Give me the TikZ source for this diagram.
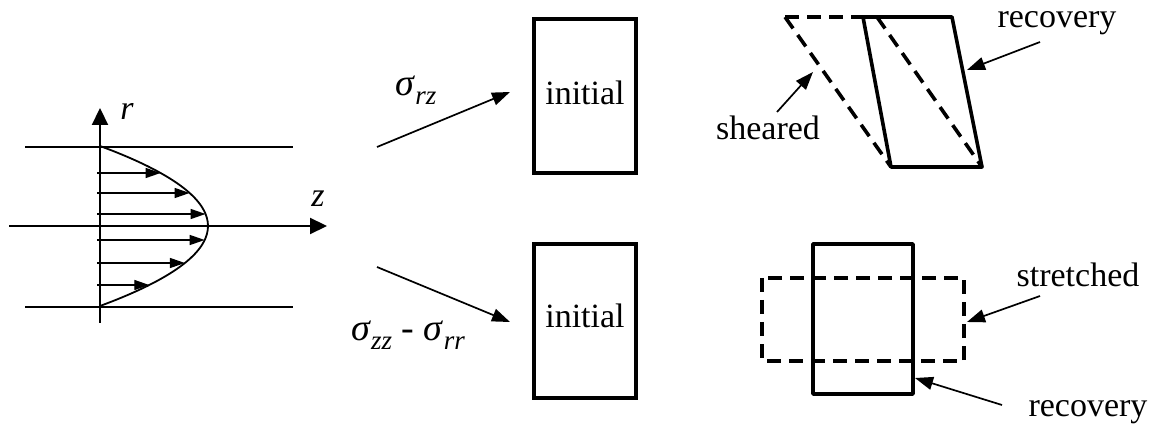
\documentclass[tikz,border=0pt]{standalone}
\usepackage{fontspec}
\setmainfont{Liberation Serif}
\usetikzlibrary{arrows.meta,positioning}

\newcommand{\stress}[1]{\textit{σ}\raisebox{-0.5ex}{\fontsize{13.5}{13.5}\selectfont\itshape #1}}

\begin{document}
\begin{tikzpicture}[x=0.5pt,y=-0.5pt,
    axis/.style={line width=1.1pt,-{Triangle[length=8.5pt,width=8pt]}},
    flow/.style={line width=0.7pt,-{Triangle[length=7.5pt,width=5pt]}},
    pointer/.style={line width=0.85pt,-{Triangle[length=9pt,width=6.5pt]}},
    wall/.style={line width=1.1pt},
    sample/.style={draw,line width=1.8pt,minimum width=51pt,minimum height=77pt,
        inner sep=0pt,font=\fontsize{17}{17}\selectfont},
    outline/.style={line width=1.8pt,line join=round},
    deformed/.style={line width=1.8pt,dash pattern=on 7pt off 4pt},
    tag/.style={font=\fontsize{17}{17}\selectfont},
    axislabel/.style={font=\fontsize{17}{17}\selectfont\itshape}]
    \useasboundingbox (0,0) rectangle (1162,427);

    % pipe flow profile
    \coordinate (rbase) at (100,323);
    \coordinate (rtip) at (100,108);
    \coordinate (zbase) at (9,226);
    \coordinate (ztip) at (327,226);
    \draw[wall] (25,147) -- (293,147);
    \draw[wall] (25,307) -- (293,307);
    \draw[axis] (rbase) -- (rtip);
    \draw[axis] (zbase) -- (ztip);
    \node[axislabel] (rlab) at (127,111) {r};
    \node[axislabel] (zlab) at (318,199) {z};
    \draw[line width=0.9pt] plot[domain=-80:80,samples=41,smooth]
        ({100+108*(1-(\x/80)^2)},{226+\x});
    \foreach \dy in {-53,-33,-12,14,37,59}
        \draw[flow] (97,226+\dy) -- ({100+108*(1-(\dy/80)^2)},226+\dy);

    % imposed stresses
    \coordinate (shearfrom) at (377,147);
    \coordinate (shearto) at (510,92);
    \coordinate (normalfrom) at (377,267);
    \coordinate (normalto) at (510,322);
    \draw[pointer] (shearfrom) -- (shearto);
    \draw[pointer] (normalfrom) -- (normalto);
    \node[tag] (srz) at (416,90) {\fontsize{19}{19}\selectfont\stress{rz}};
    \node[tag] (szz) at (408,335) {\fontsize{19}{19}\selectfont\stress{zz} - \stress{rr}};

    \node[sample] (initA) at (585,96) {\raisebox{3pt}{initial}};
    \node[sample] (initB) at (585,321) {\raisebox{5pt}{initial}};

    % shear and recovery
    \coordinate (sa) at (785,17);
    \coordinate (sb) at (877,17);
    \coordinate (rc) at (982,167);
    \coordinate (rd) at (891,167);
    \coordinate (ra) at (863,17);
    \coordinate (rb) at (952,17);
    \draw[deformed] (sa) -- (ra);
    \draw[deformed] (sa) -- (rd);
    \draw[deformed] (sb) -- (rc);
    \draw[outline] (ra) -- (rb) -- (rc) -- (rd) -- cycle;

    \node[tag] (recA) at (1057,23) {recovery};
    \node[tag] (shear) at (768,128) {sheared};
    \coordinate (recAfrom) at (1040,42);
    \coordinate (recAto) at (967,70);
    \coordinate (shearfrom2) at (777,112);
    \coordinate (shearto2) at (813,72);
    \draw[pointer] (recAfrom) -- (recAto);
    \draw[pointer] (shearfrom2) -- (shearto2);

    % stretch and recovery
    \draw[outline] (813,244) rectangle (913,394);
    \draw[deformed] (762,278) rectangle (964,361);

    \node[tag] (stretch) at (1078,275) {stretched};
    \node[tag] (recB) at (1088,412) {recovery};
    \coordinate (stretchfrom) at (1040,296);
    \coordinate (stretchto) at (967,322);
    \coordinate (recBfrom) at (1002,405);
    \coordinate (recBto) at (915,378);
    \draw[pointer] (stretchfrom) -- (stretchto);
    \draw[pointer] (recBfrom) -- (recBto);
\end{tikzpicture}
\end{document}
